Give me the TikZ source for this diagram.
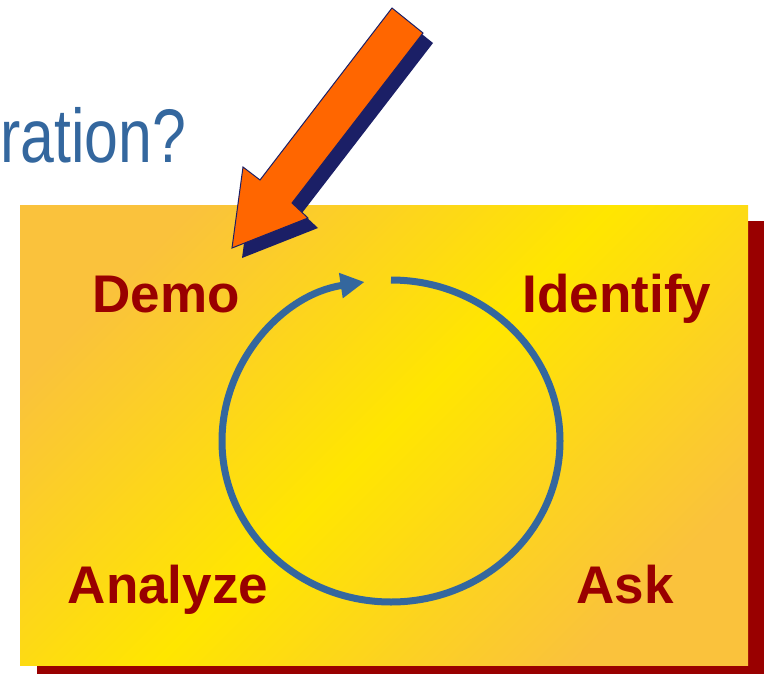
\documentclass[tikz,border=0pt]{standalone}
\usepackage{fontspec}
\setmainfont{Liberation Sans}
\newfontfamily\narrowfont[FakeStretch=0.8]{Liberation Sans}
\usetikzlibrary{arrows.meta}
\definecolor{boxred}{HTML}{990000}
\definecolor{goldedge}{HTML}{FAC23C}
\definecolor{goldmid}{HTML}{FFE600}
\definecolor{cycblue}{HTML}{34679E}
\definecolor{arroworange}{HTML}{FF6600}
\definecolor{arrownavy}{HTML}{1B1F66}
\tikzset{
  lbl/.style={font=\bfseries\fontsize{53}{53}\selectfont, text=boxred, inner sep=0pt, anchor=base},
  cyc/.style={draw=cycblue, line width=7pt, -{Triangle[length=24pt,width=24pt]}},
  bigarrow/.style={fill=arroworange, draw=arrownavy, line width=1pt, line join=miter},
  bigshadow/.style={fill=arrownavy}
}
\begin{document}
\begin{tikzpicture}[x=1pt,y=-1pt]
\useasboundingbox (0,0) rectangle (768,674);
\clip (0,0) rectangle (768,674);
% title fragment
\node[font=\narrowfont\fontsize{76}{76}\selectfont, text=cycblue, anchor=base west, inner sep=0pt] (title) at (0,162) {ration?};
% box with shadow
\fill[boxred] (37,221) rectangle (764,681);
\shade[top color=goldedge, bottom color=goldedge, middle color=goldmid, shading angle=45] (20,205) rectangle (748,665);
% labels
\node[lbl] (demo) at (166,312) {Demo};
\node[lbl] (identify) at (617,312) {Identify};
\node[lbl] (analyze) at (168,603) {Analyze};
\node[lbl] (ask) at (625,603) {Ask};
% cycle
\coordinate (cc) at (391,441);
\draw[cyc] (391,280) arc[start angle=-90, end angle=261, x radius=169, y radius=161];
% big pointer arrow with shadow
\fill[bigshadow, shift={(10,10)}] (232,248) -- (243,167) -- (260,180) -- (392,8) -- (423,33) -- (292,203) -- (308,218) -- cycle;
\filldraw[bigarrow] (232,248) -- (243,167) -- (260,180) -- (392,8) -- (423,33) -- (292,203) -- (308,218) -- cycle;
\end{tikzpicture}
\end{document}
